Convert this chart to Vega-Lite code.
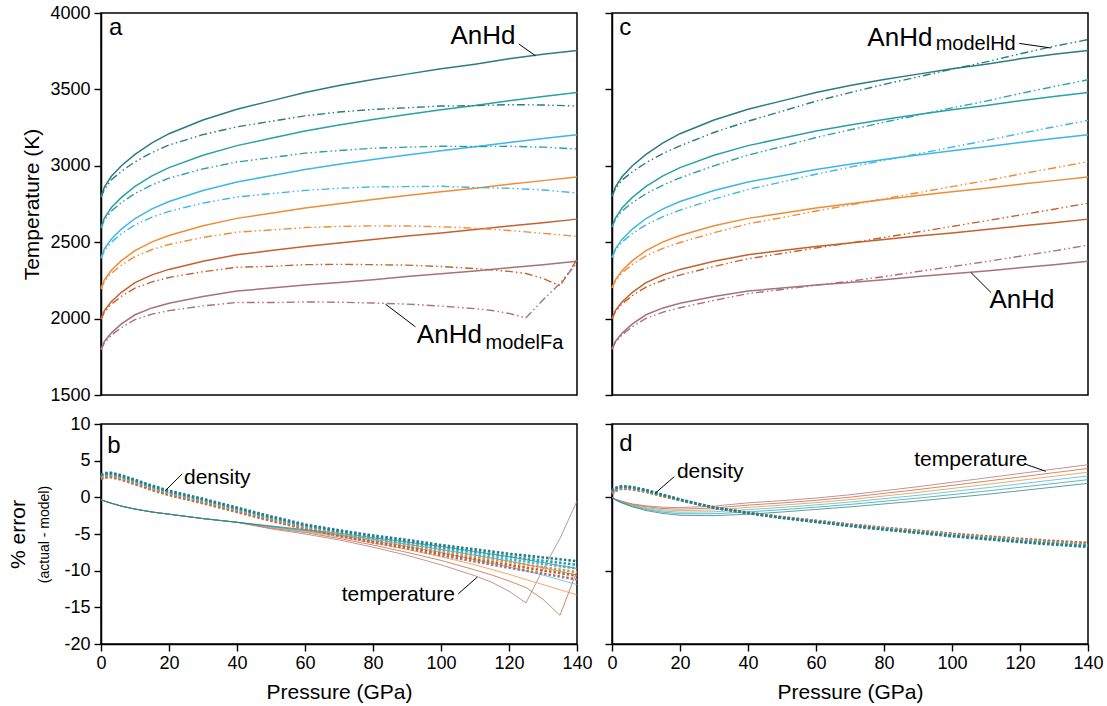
{
"$schema":"https://vega.github.io/schema/vega-lite/v6.json",
"padding":{"left":6,"top":3,"right":3,"bottom":3},
"background":"white",
"config":{"font":"Liberation Sans","view":{"stroke":"black","strokeWidth":1.5},
"axis":{"labelFontSize":18,"titleFontSize":21,"titleFontWeight":"normal","labelColor":"black","titleColor":"black","tickColor":"black","domainColor":"black","tickSize":7,"tickWidth":1.4,"domainWidth":1.5,"grid":false,"labelPadding":4,"labelFlush":false,"labelOverlap":false}},
"datasets":{
"solid":[
{"P":0,"T":1800,"k":0},{"P":1,"T":1850,"k":0},{"P":3,"T":1905,"k":0},{"P":6,"T":1965,"k":0},{"P":10,"T":2025,"k":0},{"P":15,"T":2070,"k":0},{"P":20,"T":2100,"k":0},{"P":30,"T":2145,"k":0},{"P":40,"T":2180,"k":0},{"P":50,"T":2200,"k":0},{"P":60,"T":2220,"k":0},{"P":70,"T":2237,"k":0},{"P":80,"T":2255,"k":0},{"P":90,"T":2275,"k":0},{"P":100,"T":2293,"k":0},{"P":110,"T":2312,"k":0},{"P":120,"T":2332,"k":0},{"P":130,"T":2352,"k":0},{"P":140,"T":2375,"k":0},
{"P":0,"T":2000,"k":1},{"P":1,"T":2052,"k":1},{"P":3,"T":2110,"k":1},{"P":6,"T":2172,"k":1},{"P":10,"T":2235,"k":1},{"P":15,"T":2286,"k":1},{"P":20,"T":2322,"k":1},{"P":30,"T":2376,"k":1},{"P":40,"T":2418,"k":1},{"P":50,"T":2445,"k":1},{"P":60,"T":2472,"k":1},{"P":70,"T":2495,"k":1},{"P":80,"T":2517,"k":1},{"P":90,"T":2540,"k":1},{"P":100,"T":2561,"k":1},{"P":110,"T":2583,"k":1},{"P":120,"T":2606,"k":1},{"P":130,"T":2628,"k":1},{"P":140,"T":2651,"k":1},
{"P":0,"T":2200,"k":2},{"P":1,"T":2254,"k":2},{"P":3,"T":2315,"k":2},{"P":6,"T":2379,"k":2},{"P":10,"T":2445,"k":2},{"P":15,"T":2502,"k":2},{"P":20,"T":2544,"k":2},{"P":30,"T":2607,"k":2},{"P":40,"T":2656,"k":2},{"P":50,"T":2690,"k":2},{"P":60,"T":2724,"k":2},{"P":70,"T":2752,"k":2},{"P":80,"T":2779,"k":2},{"P":90,"T":2805,"k":2},{"P":100,"T":2830,"k":2},{"P":110,"T":2853,"k":2},{"P":120,"T":2879,"k":2},{"P":130,"T":2903,"k":2},{"P":140,"T":2927,"k":2},
{"P":0,"T":2400,"k":3},{"P":1,"T":2456,"k":3},{"P":3,"T":2520,"k":3},{"P":6,"T":2586,"k":3},{"P":10,"T":2655,"k":3},{"P":15,"T":2718,"k":3},{"P":20,"T":2766,"k":3},{"P":30,"T":2838,"k":3},{"P":40,"T":2894,"k":3},{"P":50,"T":2935,"k":3},{"P":60,"T":2976,"k":3},{"P":70,"T":3010,"k":3},{"P":80,"T":3041,"k":3},{"P":90,"T":3070,"k":3},{"P":100,"T":3098,"k":3},{"P":110,"T":3124,"k":3},{"P":120,"T":3153,"k":3},{"P":130,"T":3179,"k":3},{"P":140,"T":3203,"k":3},
{"P":0,"T":2600,"k":4},{"P":1,"T":2658,"k":4},{"P":3,"T":2725,"k":4},{"P":6,"T":2793,"k":4},{"P":10,"T":2865,"k":4},{"P":15,"T":2934,"k":4},{"P":20,"T":2988,"k":4},{"P":30,"T":3069,"k":4},{"P":40,"T":3132,"k":4},{"P":50,"T":3180,"k":4},{"P":60,"T":3228,"k":4},{"P":70,"T":3267,"k":4},{"P":80,"T":3303,"k":4},{"P":90,"T":3335,"k":4},{"P":100,"T":3367,"k":4},{"P":110,"T":3394,"k":4},{"P":120,"T":3426,"k":4},{"P":130,"T":3454,"k":4},{"P":140,"T":3479,"k":4},
{"P":0,"T":2800,"k":5},{"P":1,"T":2860,"k":5},{"P":3,"T":2930,"k":5},{"P":6,"T":3000,"k":5},{"P":10,"T":3075,"k":5},{"P":15,"T":3150,"k":5},{"P":20,"T":3210,"k":5},{"P":30,"T":3300,"k":5},{"P":40,"T":3370,"k":5},{"P":50,"T":3425,"k":5},{"P":60,"T":3480,"k":5},{"P":70,"T":3525,"k":5},{"P":80,"T":3565,"k":5},{"P":90,"T":3600,"k":5},{"P":100,"T":3635,"k":5},{"P":110,"T":3665,"k":5},{"P":120,"T":3700,"k":5},{"P":130,"T":3730,"k":5},{"P":140,"T":3755,"k":5}
],
"fa":[
{"P":0,"T":1795,"k":0},{"P":1,"T":1841,"k":0},{"P":3,"T":1890,"k":0},{"P":6,"T":1941,"k":0},{"P":10,"T":1993,"k":0},{"P":15,"T":2029,"k":0},{"P":20,"T":2052,"k":0},{"P":30,"T":2083,"k":0},{"P":40,"T":2106,"k":0},{"P":50,"T":2105,"k":0},{"P":60,"T":2109,"k":0},{"P":70,"T":2107,"k":0},{"P":80,"T":2102,"k":0},{"P":90,"T":2095,"k":0},{"P":100,"T":2082,"k":0},{"P":110,"T":2065,"k":0},{"P":115,"T":2053,"k":0},{"P":120,"T":2034,"k":0},{"P":125,"T":2005,"k":0},{"P":130,"T":2122,"k":0},{"P":135,"T":2231,"k":0},{"P":140,"T":2363,"k":0},
{"P":0,"T":1994,"k":1},{"P":1,"T":2042,"k":1},{"P":3,"T":2093,"k":1},{"P":6,"T":2146,"k":1},{"P":10,"T":2199,"k":1},{"P":15,"T":2240,"k":1},{"P":20,"T":2269,"k":1},{"P":30,"T":2307,"k":1},{"P":40,"T":2336,"k":1},{"P":50,"T":2342,"k":1},{"P":60,"T":2353,"k":1},{"P":70,"T":2355,"k":1},{"P":80,"T":2353,"k":1},{"P":90,"T":2350,"k":1},{"P":100,"T":2341,"k":1},{"P":110,"T":2327,"k":1},{"P":115,"T":2319,"k":1},{"P":120,"T":2309,"k":1},{"P":125,"T":2295,"k":1},{"P":130,"T":2263,"k":1},{"P":135,"T":2215,"k":1},{"P":140,"T":2386,"k":1},
{"P":0,"T":2193,"k":2},{"P":1,"T":2243,"k":2},{"P":3,"T":2296,"k":2},{"P":6,"T":2350,"k":2},{"P":10,"T":2406,"k":2},{"P":15,"T":2452,"k":2},{"P":20,"T":2485,"k":2},{"P":30,"T":2531,"k":2},{"P":40,"T":2566,"k":2},{"P":50,"T":2580,"k":2},{"P":60,"T":2596,"k":2},{"P":70,"T":2603,"k":2},{"P":80,"T":2607,"k":2},{"P":90,"T":2606,"k":2},{"P":100,"T":2601,"k":2},{"P":110,"T":2591,"k":2},{"P":120,"T":2577,"k":2},{"P":130,"T":2558,"k":2},{"P":140,"T":2538,"k":2},
{"P":0,"T":2393,"k":3},{"P":1,"T":2444,"k":3},{"P":3,"T":2500,"k":3},{"P":6,"T":2555,"k":3},{"P":10,"T":2613,"k":3},{"P":15,"T":2664,"k":3},{"P":20,"T":2702,"k":3},{"P":30,"T":2756,"k":3},{"P":40,"T":2796,"k":3},{"P":50,"T":2818,"k":3},{"P":60,"T":2839,"k":3},{"P":70,"T":2853,"k":3},{"P":80,"T":2862,"k":3},{"P":90,"T":2864,"k":3},{"P":100,"T":2866,"k":3},{"P":110,"T":2858,"k":3},{"P":120,"T":2853,"k":3},{"P":130,"T":2842,"k":3},{"P":140,"T":2822,"k":3},
{"P":0,"T":2592,"k":4},{"P":1,"T":2645,"k":4},{"P":3,"T":2703,"k":4},{"P":6,"T":2759,"k":4},{"P":10,"T":2819,"k":4},{"P":15,"T":2875,"k":4},{"P":20,"T":2919,"k":4},{"P":30,"T":2980,"k":4},{"P":40,"T":3025,"k":4},{"P":50,"T":3053,"k":4},{"P":60,"T":3083,"k":4},{"P":70,"T":3100,"k":4},{"P":80,"T":3115,"k":4},{"P":90,"T":3122,"k":4},{"P":100,"T":3128,"k":4},{"P":110,"T":3126,"k":4},{"P":120,"T":3128,"k":4},{"P":130,"T":3122,"k":4},{"P":140,"T":3110,"k":4},
{"P":0,"T":2792,"k":5},{"P":1,"T":2846,"k":5},{"P":3,"T":2907,"k":5},{"P":6,"T":2964,"k":5},{"P":10,"T":3026,"k":5},{"P":15,"T":3087,"k":5},{"P":20,"T":3136,"k":5},{"P":30,"T":3204,"k":5},{"P":40,"T":3255,"k":5},{"P":50,"T":3291,"k":5},{"P":60,"T":3327,"k":5},{"P":70,"T":3352,"k":5},{"P":80,"T":3369,"k":5},{"P":90,"T":3380,"k":5},{"P":100,"T":3391,"k":5},{"P":110,"T":3394,"k":5},{"P":120,"T":3400,"k":5},{"P":130,"T":3398,"k":5},{"P":140,"T":3391,"k":5}
],
"hd":[
{"P":0,"T":1800,"k":0},{"P":1,"T":1845,"k":0},{"P":3,"T":1895,"k":0},{"P":6,"T":1947,"k":0},{"P":10,"T":2002,"k":0},{"P":15,"T":2042,"k":0},{"P":20,"T":2071,"k":0},{"P":30,"T":2119,"k":0},{"P":40,"T":2164,"k":0},{"P":50,"T":2190,"k":0},{"P":60,"T":2218,"k":0},{"P":70,"T":2245,"k":0},{"P":80,"T":2275,"k":0},{"P":90,"T":2308,"k":0},{"P":100,"T":2340,"k":0},{"P":110,"T":2373,"k":0},{"P":120,"T":2408,"k":0},{"P":130,"T":2443,"k":0},{"P":140,"T":2481,"k":0},
{"P":0,"T":2000,"k":1},{"P":1,"T":2046,"k":1},{"P":3,"T":2097,"k":1},{"P":6,"T":2151,"k":1},{"P":10,"T":2206,"k":1},{"P":15,"T":2251,"k":1},{"P":20,"T":2285,"k":1},{"P":30,"T":2341,"k":1},{"P":40,"T":2392,"k":1},{"P":50,"T":2426,"k":1},{"P":60,"T":2462,"k":1},{"P":70,"T":2495,"k":1},{"P":80,"T":2531,"k":1},{"P":90,"T":2567,"k":1},{"P":100,"T":2603,"k":1},{"P":110,"T":2640,"k":1},{"P":120,"T":2678,"k":1},{"P":130,"T":2716,"k":1},{"P":140,"T":2755,"k":1},
{"P":0,"T":2200,"k":2},{"P":1,"T":2247,"k":2},{"P":3,"T":2300,"k":2},{"P":6,"T":2354,"k":2},{"P":10,"T":2411,"k":2},{"P":15,"T":2460,"k":2},{"P":20,"T":2498,"k":2},{"P":30,"T":2562,"k":2},{"P":40,"T":2620,"k":2},{"P":50,"T":2661,"k":2},{"P":60,"T":2704,"k":2},{"P":70,"T":2743,"k":2},{"P":80,"T":2784,"k":2},{"P":90,"T":2824,"k":2},{"P":100,"T":2864,"k":2},{"P":110,"T":2903,"k":2},{"P":120,"T":2946,"k":2},{"P":130,"T":2986,"k":2},{"P":140,"T":3027,"k":2},
{"P":0,"T":2400,"k":3},{"P":1,"T":2448,"k":3},{"P":3,"T":2502,"k":3},{"P":6,"T":2557,"k":3},{"P":10,"T":2614,"k":3},{"P":15,"T":2667,"k":3},{"P":20,"T":2710,"k":3},{"P":30,"T":2782,"k":3},{"P":40,"T":2845,"k":3},{"P":50,"T":2894,"k":3},{"P":60,"T":2945,"k":3},{"P":70,"T":2991,"k":3},{"P":80,"T":3036,"k":3},{"P":90,"T":3079,"k":3},{"P":100,"T":3122,"k":3},{"P":110,"T":3165,"k":3},{"P":120,"T":3211,"k":3},{"P":130,"T":3255,"k":3},{"P":140,"T":3297,"k":3},
{"P":0,"T":2600,"k":4},{"P":1,"T":2649,"k":4},{"P":3,"T":2705,"k":4},{"P":6,"T":2759,"k":4},{"P":10,"T":2817,"k":4},{"P":15,"T":2874,"k":4},{"P":20,"T":2921,"k":4},{"P":30,"T":3000,"k":4},{"P":40,"T":3070,"k":4},{"P":50,"T":3126,"k":4},{"P":60,"T":3185,"k":4},{"P":70,"T":3235,"k":4},{"P":80,"T":3285,"k":4},{"P":90,"T":3331,"k":4},{"P":100,"T":3379,"k":4},{"P":110,"T":3423,"k":4},{"P":120,"T":3473,"k":4},{"P":130,"T":3519,"k":4},{"P":140,"T":3563,"k":4},
{"P":0,"T":2800,"k":5},{"P":1,"T":2850,"k":5},{"P":3,"T":2907,"k":5},{"P":6,"T":2961,"k":5},{"P":10,"T":3020,"k":5},{"P":15,"T":3081,"k":5},{"P":20,"T":3131,"k":5},{"P":30,"T":3218,"k":5},{"P":40,"T":3292,"k":5},{"P":50,"T":3357,"k":5},{"P":60,"T":3423,"k":5},{"P":70,"T":3479,"k":5},{"P":80,"T":3533,"k":5},{"P":90,"T":3582,"k":5},{"P":100,"T":3633,"k":5},{"P":110,"T":3680,"k":5},{"P":120,"T":3733,"k":5},{"P":130,"T":3782,"k":5},{"P":140,"T":3826,"k":5}
],
"bT":[
{"P":0,"E":-0.3,"k":0},{"P":1,"E":-0.5,"k":0},{"P":3,"E":-0.8,"k":0},{"P":6,"E":-1.2,"k":0},{"P":10,"E":-1.6,"k":0},{"P":15,"E":-2.0,"k":0},{"P":20,"E":-2.3,"k":0},{"P":30,"E":-2.9,"k":0},{"P":40,"E":-3.4,"k":0},{"P":50,"E":-4.3,"k":0},{"P":60,"E":-5.0,"k":0},{"P":70,"E":-5.8,"k":0},{"P":80,"E":-6.8,"k":0},{"P":90,"E":-7.9,"k":0},{"P":100,"E":-9.2,"k":0},{"P":110,"E":-10.7,"k":0},{"P":115,"E":-11.6,"k":0},{"P":120,"E":-12.8,"k":0},{"P":125,"E":-14.4,"k":0},{"P":130,"E":-9.8,"k":0},{"P":135,"E":-5.6,"k":0},{"P":140,"E":-0.5,"k":0},
{"P":0,"E":-0.3,"k":1},{"P":1,"E":-0.5,"k":1},{"P":3,"E":-0.8,"k":1},{"P":6,"E":-1.2,"k":1},{"P":10,"E":-1.6,"k":1},{"P":15,"E":-2.0,"k":1},{"P":20,"E":-2.3,"k":1},{"P":30,"E":-2.9,"k":1},{"P":40,"E":-3.4,"k":1},{"P":50,"E":-4.2,"k":1},{"P":60,"E":-4.8,"k":1},{"P":70,"E":-5.6,"k":1},{"P":80,"E":-6.5,"k":1},{"P":90,"E":-7.5,"k":1},{"P":100,"E":-8.6,"k":1},{"P":110,"E":-9.9,"k":1},{"P":115,"E":-10.6,"k":1},{"P":120,"E":-11.4,"k":1},{"P":125,"E":-12.3,"k":1},{"P":130,"E":-13.9,"k":1},{"P":135,"E":-16.1,"k":1},{"P":140,"E":-10.0,"k":1},
{"P":0,"E":-0.3,"k":2},{"P":1,"E":-0.5,"k":2},{"P":3,"E":-0.8,"k":2},{"P":6,"E":-1.2,"k":2},{"P":10,"E":-1.6,"k":2},{"P":15,"E":-2.0,"k":2},{"P":20,"E":-2.3,"k":2},{"P":30,"E":-2.9,"k":2},{"P":40,"E":-3.4,"k":2},{"P":50,"E":-4.1,"k":2},{"P":60,"E":-4.7,"k":2},{"P":70,"E":-5.4,"k":2},{"P":80,"E":-6.2,"k":2},{"P":90,"E":-7.1,"k":2},{"P":100,"E":-8.1,"k":2},{"P":110,"E":-9.2,"k":2},{"P":120,"E":-10.5,"k":2},{"P":130,"E":-11.9,"k":2},{"P":140,"E":-13.3,"k":2},
{"P":0,"E":-0.3,"k":3},{"P":1,"E":-0.5,"k":3},{"P":3,"E":-0.8,"k":3},{"P":6,"E":-1.2,"k":3},{"P":10,"E":-1.6,"k":3},{"P":15,"E":-2.0,"k":3},{"P":20,"E":-2.3,"k":3},{"P":30,"E":-2.9,"k":3},{"P":40,"E":-3.4,"k":3},{"P":50,"E":-4.0,"k":3},{"P":60,"E":-4.6,"k":3},{"P":70,"E":-5.2,"k":3},{"P":80,"E":-5.9,"k":3},{"P":90,"E":-6.7,"k":3},{"P":100,"E":-7.5,"k":3},{"P":110,"E":-8.5,"k":3},{"P":120,"E":-9.5,"k":3},{"P":130,"E":-10.6,"k":3},{"P":140,"E":-11.9,"k":3},
{"P":0,"E":-0.3,"k":4},{"P":1,"E":-0.5,"k":4},{"P":3,"E":-0.8,"k":4},{"P":6,"E":-1.2,"k":4},{"P":10,"E":-1.6,"k":4},{"P":15,"E":-2.0,"k":4},{"P":20,"E":-2.3,"k":4},{"P":30,"E":-2.9,"k":4},{"P":40,"E":-3.4,"k":4},{"P":50,"E":-4.0,"k":4},{"P":60,"E":-4.5,"k":4},{"P":70,"E":-5.1,"k":4},{"P":80,"E":-5.7,"k":4},{"P":90,"E":-6.4,"k":4},{"P":100,"E":-7.1,"k":4},{"P":110,"E":-7.9,"k":4},{"P":120,"E":-8.7,"k":4},{"P":130,"E":-9.6,"k":4},{"P":140,"E":-10.6,"k":4},
{"P":0,"E":-0.3,"k":5},{"P":1,"E":-0.5,"k":5},{"P":3,"E":-0.8,"k":5},{"P":6,"E":-1.2,"k":5},{"P":10,"E":-1.6,"k":5},{"P":15,"E":-2.0,"k":5},{"P":20,"E":-2.3,"k":5},{"P":30,"E":-2.9,"k":5},{"P":40,"E":-3.4,"k":5},{"P":50,"E":-3.9,"k":5},{"P":60,"E":-4.4,"k":5},{"P":70,"E":-4.9,"k":5},{"P":80,"E":-5.5,"k":5},{"P":90,"E":-6.1,"k":5},{"P":100,"E":-6.7,"k":5},{"P":110,"E":-7.4,"k":5},{"P":120,"E":-8.1,"k":5},{"P":130,"E":-8.9,"k":5},{"P":140,"E":-9.7,"k":5}
],
"bD":[
{"P":0,"E":2.5,"k":0},{"P":1,"E":2.7,"k":0},{"P":3,"E":2.75,"k":0},{"P":6,"E":2.4,"k":0},{"P":10,"E":1.8,"k":0},{"P":15,"E":1.0,"k":0},{"P":20,"E":0.3,"k":0},{"P":30,"E":-0.8,"k":0},{"P":40,"E":-2.0,"k":0},{"P":50,"E":-3.2,"k":0},{"P":60,"E":-4.3,"k":0},{"P":70,"E":-5.25,"k":0},{"P":80,"E":-6.15,"k":0},{"P":90,"E":-6.95,"k":0},{"P":100,"E":-7.9,"k":0},{"P":110,"E":-8.75,"k":0},{"P":120,"E":-9.6,"k":0},{"P":130,"E":-10.4,"k":0},{"P":140,"E":-11.2,"k":0},
{"P":0,"E":2.62,"k":1},{"P":1,"E":2.82,"k":1},{"P":3,"E":2.87,"k":1},{"P":6,"E":2.52,"k":1},{"P":10,"E":1.92,"k":1},{"P":15,"E":1.12,"k":1},{"P":20,"E":0.42,"k":1},{"P":30,"E":-0.68,"k":1},{"P":40,"E":-1.88,"k":1},{"P":50,"E":-3.08,"k":1},{"P":60,"E":-4.18,"k":1},{"P":70,"E":-5.1,"k":1},{"P":80,"E":-5.96,"k":1},{"P":90,"E":-6.72,"k":1},{"P":100,"E":-7.62,"k":1},{"P":110,"E":-8.42,"k":1},{"P":120,"E":-9.22,"k":1},{"P":130,"E":-9.96,"k":1},{"P":140,"E":-10.7,"k":1},
{"P":0,"E":2.74,"k":2},{"P":1,"E":2.94,"k":2},{"P":3,"E":2.99,"k":2},{"P":6,"E":2.64,"k":2},{"P":10,"E":2.04,"k":2},{"P":15,"E":1.24,"k":2},{"P":20,"E":0.54,"k":2},{"P":30,"E":-0.56,"k":2},{"P":40,"E":-1.76,"k":2},{"P":50,"E":-2.96,"k":2},{"P":60,"E":-4.06,"k":2},{"P":70,"E":-4.95,"k":2},{"P":80,"E":-5.77,"k":2},{"P":90,"E":-6.49,"k":2},{"P":100,"E":-7.34,"k":2},{"P":110,"E":-8.09,"k":2},{"P":120,"E":-8.84,"k":2},{"P":130,"E":-9.52,"k":2},{"P":140,"E":-10.2,"k":2},
{"P":0,"E":2.86,"k":3},{"P":1,"E":3.06,"k":3},{"P":3,"E":3.11,"k":3},{"P":6,"E":2.76,"k":3},{"P":10,"E":2.16,"k":3},{"P":15,"E":1.36,"k":3},{"P":20,"E":0.66,"k":3},{"P":30,"E":-0.44,"k":3},{"P":40,"E":-1.64,"k":3},{"P":50,"E":-2.84,"k":3},{"P":60,"E":-3.94,"k":3},{"P":70,"E":-4.8,"k":3},{"P":80,"E":-5.58,"k":3},{"P":90,"E":-6.26,"k":3},{"P":100,"E":-7.06,"k":3},{"P":110,"E":-7.76,"k":3},{"P":120,"E":-8.46,"k":3},{"P":130,"E":-9.08,"k":3},{"P":140,"E":-9.7,"k":3},
{"P":0,"E":2.98,"k":4},{"P":1,"E":3.18,"k":4},{"P":3,"E":3.23,"k":4},{"P":6,"E":2.88,"k":4},{"P":10,"E":2.28,"k":4},{"P":15,"E":1.48,"k":4},{"P":20,"E":0.78,"k":4},{"P":30,"E":-0.32,"k":4},{"P":40,"E":-1.52,"k":4},{"P":50,"E":-2.72,"k":4},{"P":60,"E":-3.82,"k":4},{"P":70,"E":-4.65,"k":4},{"P":80,"E":-5.39,"k":4},{"P":90,"E":-6.03,"k":4},{"P":100,"E":-6.78,"k":4},{"P":110,"E":-7.43,"k":4},{"P":120,"E":-8.08,"k":4},{"P":130,"E":-8.64,"k":4},{"P":140,"E":-9.2,"k":4},
{"P":0,"E":3.1,"k":5},{"P":1,"E":3.3,"k":5},{"P":3,"E":3.35,"k":5},{"P":6,"E":3.0,"k":5},{"P":10,"E":2.4,"k":5},{"P":15,"E":1.6,"k":5},{"P":20,"E":0.9,"k":5},{"P":30,"E":-0.2,"k":5},{"P":40,"E":-1.4,"k":5},{"P":50,"E":-2.6,"k":5},{"P":60,"E":-3.7,"k":5},{"P":70,"E":-4.5,"k":5},{"P":80,"E":-5.2,"k":5},{"P":90,"E":-5.8,"k":5},{"P":100,"E":-6.5,"k":5},{"P":110,"E":-7.1,"k":5},{"P":120,"E":-7.7,"k":5},{"P":130,"E":-8.2,"k":5},{"P":140,"E":-8.7,"k":5}
],
"dT":[
{"P":0,"E":0,"k":0},{"P":1,"E":-0.25,"k":0},{"P":3,"E":-0.55,"k":0},{"P":6,"E":-0.9,"k":0},{"P":10,"E":-1.15,"k":0},{"P":15,"E":-1.35,"k":0},{"P":20,"E":-1.4,"k":0},{"P":30,"E":-1.2,"k":0},{"P":40,"E":-0.75,"k":0},{"P":50,"E":-0.45,"k":0},{"P":60,"E":-0.1,"k":0},{"P":70,"E":0.35,"k":0},{"P":80,"E":0.9,"k":0},{"P":90,"E":1.45,"k":0},{"P":100,"E":2.05,"k":0},{"P":110,"E":2.65,"k":0},{"P":120,"E":3.25,"k":0},{"P":130,"E":3.85,"k":0},{"P":140,"E":4.45,"k":0},
{"P":0,"E":0,"k":1},{"P":1,"E":-0.27,"k":1},{"P":3,"E":-0.6,"k":1},{"P":6,"E":-0.98,"k":1},{"P":10,"E":-1.28,"k":1},{"P":15,"E":-1.52,"k":1},{"P":20,"E":-1.61,"k":1},{"P":30,"E":-1.46,"k":1},{"P":40,"E":-1.06,"k":1},{"P":50,"E":-0.76,"k":1},{"P":60,"E":-0.41,"k":1},{"P":70,"E":0.02,"k":1},{"P":80,"E":0.54,"k":1},{"P":90,"E":1.06,"k":1},{"P":100,"E":1.63,"k":1},{"P":110,"E":2.2,"k":1},{"P":120,"E":2.78,"k":1},{"P":130,"E":3.36,"k":1},{"P":140,"E":3.94,"k":1},
{"P":0,"E":0,"k":2},{"P":1,"E":-0.29,"k":2},{"P":3,"E":-0.65,"k":2},{"P":6,"E":-1.06,"k":2},{"P":10,"E":-1.41,"k":2},{"P":15,"E":-1.69,"k":2},{"P":20,"E":-1.82,"k":2},{"P":30,"E":-1.72,"k":2},{"P":40,"E":-1.37,"k":2},{"P":50,"E":-1.07,"k":2},{"P":60,"E":-0.72,"k":2},{"P":70,"E":-0.31,"k":2},{"P":80,"E":0.18,"k":2},{"P":90,"E":0.67,"k":2},{"P":100,"E":1.21,"k":2},{"P":110,"E":1.75,"k":2},{"P":120,"E":2.31,"k":2},{"P":130,"E":2.87,"k":2},{"P":140,"E":3.43,"k":2},
{"P":0,"E":0,"k":3},{"P":1,"E":-0.31,"k":3},{"P":3,"E":-0.7,"k":3},{"P":6,"E":-1.14,"k":3},{"P":10,"E":-1.54,"k":3},{"P":15,"E":-1.86,"k":3},{"P":20,"E":-2.03,"k":3},{"P":30,"E":-1.98,"k":3},{"P":40,"E":-1.68,"k":3},{"P":50,"E":-1.38,"k":3},{"P":60,"E":-1.03,"k":3},{"P":70,"E":-0.64,"k":3},{"P":80,"E":-0.18,"k":3},{"P":90,"E":0.28,"k":3},{"P":100,"E":0.79,"k":3},{"P":110,"E":1.3,"k":3},{"P":120,"E":1.84,"k":3},{"P":130,"E":2.38,"k":3},{"P":140,"E":2.92,"k":3},
{"P":0,"E":0,"k":4},{"P":1,"E":-0.33,"k":4},{"P":3,"E":-0.75,"k":4},{"P":6,"E":-1.22,"k":4},{"P":10,"E":-1.67,"k":4},{"P":15,"E":-2.03,"k":4},{"P":20,"E":-2.24,"k":4},{"P":30,"E":-2.24,"k":4},{"P":40,"E":-1.99,"k":4},{"P":50,"E":-1.69,"k":4},{"P":60,"E":-1.34,"k":4},{"P":70,"E":-0.97,"k":4},{"P":80,"E":-0.54,"k":4},{"P":90,"E":-0.11,"k":4},{"P":100,"E":0.37,"k":4},{"P":110,"E":0.85,"k":4},{"P":120,"E":1.37,"k":4},{"P":130,"E":1.89,"k":4},{"P":140,"E":2.41,"k":4},
{"P":0,"E":0,"k":5},{"P":1,"E":-0.35,"k":5},{"P":3,"E":-0.8,"k":5},{"P":6,"E":-1.3,"k":5},{"P":10,"E":-1.8,"k":5},{"P":15,"E":-2.2,"k":5},{"P":20,"E":-2.45,"k":5},{"P":30,"E":-2.5,"k":5},{"P":40,"E":-2.3,"k":5},{"P":50,"E":-2.0,"k":5},{"P":60,"E":-1.65,"k":5},{"P":70,"E":-1.3,"k":5},{"P":80,"E":-0.9,"k":5},{"P":90,"E":-0.5,"k":5},{"P":100,"E":-0.05,"k":5},{"P":110,"E":0.4,"k":5},{"P":120,"E":0.9,"k":5},{"P":130,"E":1.4,"k":5},{"P":140,"E":1.9,"k":5}
],
"dD":[
{"P":0,"E":0.5,"k":0},{"P":1,"E":0.9,"k":0},{"P":3,"E":1.2,"k":0},{"P":6,"E":1.1,"k":0},{"P":10,"E":0.75,"k":0},{"P":15,"E":0.15,"k":0},{"P":20,"E":-0.4,"k":0},{"P":30,"E":-1.4,"k":0},{"P":40,"E":-2.1,"k":0},{"P":50,"E":-2.7,"k":0},{"P":60,"E":-3.2,"k":0},{"P":70,"E":-3.7,"k":0},{"P":80,"E":-4.15,"k":0},{"P":90,"E":-4.55,"k":0},{"P":100,"E":-4.95,"k":0},{"P":110,"E":-5.3,"k":0},{"P":120,"E":-5.65,"k":0},{"P":130,"E":-5.95,"k":0},{"P":140,"E":-6.2,"k":0},
{"P":0,"E":0.58,"k":1},{"P":1,"E":0.98,"k":1},{"P":3,"E":1.27,"k":1},{"P":6,"E":1.16,"k":1},{"P":10,"E":0.8,"k":1},{"P":15,"E":0.19,"k":1},{"P":20,"E":-0.38,"k":1},{"P":30,"E":-1.4,"k":1},{"P":40,"E":-2.11,"k":1},{"P":50,"E":-2.72,"k":1},{"P":60,"E":-3.23,"k":1},{"P":70,"E":-3.74,"k":1},{"P":80,"E":-4.2,"k":1},{"P":90,"E":-4.61,"k":1},{"P":100,"E":-5.02,"k":1},{"P":110,"E":-5.38,"k":1},{"P":120,"E":-5.74,"k":1},{"P":130,"E":-6.05,"k":1},{"P":140,"E":-6.31,"k":1},
{"P":0,"E":0.66,"k":2},{"P":1,"E":1.06,"k":2},{"P":3,"E":1.34,"k":2},{"P":6,"E":1.22,"k":2},{"P":10,"E":0.85,"k":2},{"P":15,"E":0.23,"k":2},{"P":20,"E":-0.36,"k":2},{"P":30,"E":-1.4,"k":2},{"P":40,"E":-2.12,"k":2},{"P":50,"E":-2.74,"k":2},{"P":60,"E":-3.26,"k":2},{"P":70,"E":-3.78,"k":2},{"P":80,"E":-4.25,"k":2},{"P":90,"E":-4.67,"k":2},{"P":100,"E":-5.09,"k":2},{"P":110,"E":-5.46,"k":2},{"P":120,"E":-5.83,"k":2},{"P":130,"E":-6.15,"k":2},{"P":140,"E":-6.42,"k":2},
{"P":0,"E":0.74,"k":3},{"P":1,"E":1.14,"k":3},{"P":3,"E":1.41,"k":3},{"P":6,"E":1.28,"k":3},{"P":10,"E":0.9,"k":3},{"P":15,"E":0.27,"k":3},{"P":20,"E":-0.34,"k":3},{"P":30,"E":-1.4,"k":3},{"P":40,"E":-2.13,"k":3},{"P":50,"E":-2.76,"k":3},{"P":60,"E":-3.29,"k":3},{"P":70,"E":-3.82,"k":3},{"P":80,"E":-4.3,"k":3},{"P":90,"E":-4.73,"k":3},{"P":100,"E":-5.16,"k":3},{"P":110,"E":-5.54,"k":3},{"P":120,"E":-5.92,"k":3},{"P":130,"E":-6.25,"k":3},{"P":140,"E":-6.53,"k":3},
{"P":0,"E":0.82,"k":4},{"P":1,"E":1.22,"k":4},{"P":3,"E":1.48,"k":4},{"P":6,"E":1.34,"k":4},{"P":10,"E":0.95,"k":4},{"P":15,"E":0.31,"k":4},{"P":20,"E":-0.32,"k":4},{"P":30,"E":-1.4,"k":4},{"P":40,"E":-2.14,"k":4},{"P":50,"E":-2.78,"k":4},{"P":60,"E":-3.32,"k":4},{"P":70,"E":-3.86,"k":4},{"P":80,"E":-4.35,"k":4},{"P":90,"E":-4.79,"k":4},{"P":100,"E":-5.23,"k":4},{"P":110,"E":-5.62,"k":4},{"P":120,"E":-6.01,"k":4},{"P":130,"E":-6.35,"k":4},{"P":140,"E":-6.64,"k":4},
{"P":0,"E":0.9,"k":5},{"P":1,"E":1.3,"k":5},{"P":3,"E":1.55,"k":5},{"P":6,"E":1.4,"k":5},{"P":10,"E":1.0,"k":5},{"P":15,"E":0.35,"k":5},{"P":20,"E":-0.3,"k":5},{"P":30,"E":-1.4,"k":5},{"P":40,"E":-2.15,"k":5},{"P":50,"E":-2.8,"k":5},{"P":60,"E":-3.35,"k":5},{"P":70,"E":-3.9,"k":5},{"P":80,"E":-4.4,"k":5},{"P":90,"E":-4.85,"k":5},{"P":100,"E":-5.3,"k":5},{"P":110,"E":-5.7,"k":5},{"P":120,"E":-6.1,"k":5},{"P":130,"E":-6.45,"k":5},{"P":140,"E":-6.75,"k":5}
]
},
"columns":2,
"spacing":{"row":29,"column":35},
"bounds":"flush",
"concat":[
{"width":476,"height":382,
 "layer":[
  {"data":{"name":"solid"},"mark":{"type":"line","strokeWidth":1.5},
   "encoding":{"x":{"field":"P","type":"quantitative","scale":{"domain":[0,140],"nice":false},"axis":null},
     "y":{"field":"T","type":"quantitative","scale":{"domain":[1500,4000],"nice":false},"axis":{"title":"Temperature (K)","values":[1500,2000,2500,3000,3500,4000],"labelExpr":"'' + datum.value","titlePadding":7}},
     "color":{"field":"k","type":"nominal","scale":{"domain":[0,1,2,3,4,5],"range":["#a8727a","#c4622d","#f08c35","#3db7e4","#2aa0a8","#2b7c83"]},"legend":null}}},
  {"data":{"name":"fa"},"mark":{"type":"line","strokeWidth":1.4,"strokeDash":[8,3,1.5,3,1.5,3]},
   "encoding":{"x":{"field":"P","type":"quantitative","axis":null},"y":{"field":"T","type":"quantitative"},
     "color":{"field":"k","type":"nominal","scale":{"domain":[0,1,2,3,4,5],"range":["#a8727a","#c4622d","#f08c35","#3db7e4","#2aa0a8","#2b7c83"]},"legend":null}}},
  {"data":{"values":[{"P":122.9,"T":3797,"P2":127.8,"T2":3720},{"P":83.7,"T":2094,"P2":92.5,"T2":1946}]},"mark":{"type":"rule","color":"black","strokeWidth":1},
   "encoding":{"x":{"field":"P","type":"quantitative","axis":null},"y":{"field":"T","type":"quantitative"},"x2":{"field":"P2"},"y2":{"field":"T2"}}},
  {"data":{"values":[{"P":2.35,"T":3856,"t":"a"}]},"mark":{"type":"text","fontSize":24,"align":"left","baseline":"alphabetic","color":"black"},
   "encoding":{"x":{"field":"P","type":"quantitative","axis":null},"y":{"field":"T","type":"quantitative"},"text":{"field":"t"}}},
  {"data":{"values":[{"P":102.8,"T":3797,"t":"AnHd"},{"P":92.9,"T":1843,"t":"AnHd"}]},"mark":{"type":"text","fontSize":26,"align":"left","baseline":"alphabetic","color":"black"},
   "encoding":{"x":{"field":"P","type":"quantitative","axis":null},"y":{"field":"T","type":"quantitative"},"text":{"field":"t"}}},
  {"data":{"values":[{"P":113.1,"T":1804,"t":"modelFa"}]},"mark":{"type":"text","fontSize":20,"align":"left","baseline":"alphabetic","color":"black"},
   "encoding":{"x":{"field":"P","type":"quantitative","axis":null},"y":{"field":"T","type":"quantitative"},"text":{"field":"t"}}}
 ]},
{"width":476,"height":382,
 "layer":[
  {"data":{"name":"solid"},"mark":{"type":"line","strokeWidth":1.5},
   "encoding":{"x":{"field":"P","type":"quantitative","scale":{"domain":[0,140],"nice":false},"axis":null},
     "y":{"field":"T","type":"quantitative","scale":{"domain":[1500,4000],"nice":false},"axis":{"title":null,"labels":false,"values":[1500,2000,2500,3000,3500,4000]}},
     "color":{"field":"k","type":"nominal","scale":{"domain":[0,1,2,3,4,5],"range":["#a8727a","#c4622d","#f08c35","#3db7e4","#2aa0a8","#2b7c83"]},"legend":null}}},
  {"data":{"name":"hd"},"mark":{"type":"line","strokeWidth":1.4,"strokeDash":[8,3,1.5,3,1.5,3]},
   "encoding":{"x":{"field":"P","type":"quantitative","axis":null},"y":{"field":"T","type":"quantitative"},
     "color":{"field":"k","type":"nominal","scale":{"domain":[0,1,2,3,4,5],"range":["#a8727a","#c4622d","#f08c35","#3db7e4","#2aa0a8","#2b7c83"]},"legend":null}}},
  {"data":{"values":[{"P":119.8,"T":3801,"P2":129.1,"T2":3771},{"P":105.6,"T":2301,"P2":111.5,"T2":2170}]},"mark":{"type":"rule","color":"black","strokeWidth":1},
   "encoding":{"x":{"field":"P","type":"quantitative","axis":null},"y":{"field":"T","type":"quantitative"},"x2":{"field":"P2"},"y2":{"field":"T2"}}},
  {"data":{"values":[{"P":2.15,"T":3856,"t":"c"}]},"mark":{"type":"text","fontSize":24,"align":"left","baseline":"alphabetic","color":"black"},
   "encoding":{"x":{"field":"P","type":"quantitative","axis":null},"y":{"field":"T","type":"quantitative"},"text":{"field":"t"}}},
  {"data":{"values":[{"P":75.1,"T":3786,"t":"AnHd"},{"P":111,"T":2072,"t":"AnHd"}]},"mark":{"type":"text","fontSize":26,"align":"left","baseline":"alphabetic","color":"black"},
   "encoding":{"x":{"field":"P","type":"quantitative","axis":null},"y":{"field":"T","type":"quantitative"},"text":{"field":"t"}}},
  {"data":{"values":[{"P":95.2,"T":3758,"t":"modelHd"}]},"mark":{"type":"text","fontSize":20,"align":"left","baseline":"alphabetic","color":"black"},
   "encoding":{"x":{"field":"P","type":"quantitative","axis":null},"y":{"field":"T","type":"quantitative"},"text":{"field":"t"}}}
 ]},
{"width":476,"height":220,
 "resolve":{"scale":{"y":"shared"},"axis":{"y":"independent"}},
 "layer":[
  {"data":{"name":"bT"},"mark":{"type":"line","strokeWidth":1,"opacity":0.75},
   "encoding":{"x":{"field":"P","type":"quantitative","scale":{"domain":[0,140],"nice":false},"axis":{"title":"Pressure (GPa)","values":[0,20,40,60,80,100,120,140],"labelExpr":"'' + datum.value","labelPadding":3,"titlePadding":9}},
     "y":{"field":"E","type":"quantitative","scale":{"domain":[-20,10],"nice":false},"axis":{"title":"(actual - model)","titleFontSize":14,"titlePadding":12,"values":[-20,-15,-10,-5,0,5,10],"labelExpr":"'' + datum.value"}},
     "color":{"field":"k","type":"nominal","scale":{"domain":[0,1,2,3,4,5],"range":["#a8727a","#c4622d","#f08c35","#3db7e4","#2aa0a8","#2b7c83"]},"legend":null}}},
  {"data":{"name":"bD"},"mark":{"type":"line","strokeWidth":2.6,"strokeDash":[2.5,2]},
   "encoding":{"x":{"field":"P","type":"quantitative"},
     "y":{"field":"E","type":"quantitative","axis":{"title":"% error","orient":"left","labels":false,"ticks":false,"domain":false,"minExtent":0,"titlePadding":73,"titleFontSize":21}},
     "color":{"field":"k","type":"nominal","scale":{"domain":[0,1,2,3,4,5],"range":["#a8727a","#c4622d","#f08c35","#3db7e4","#2aa0a8","#2b7c83"]},"legend":null}}},
  {"data":{"values":[{"P":19.0,"E":0.95,"P2":23.9,"E2":3.22},{"P":105.1,"E":-13.15,"P2":110.7,"E2":-10.87}]},"mark":{"type":"rule","color":"black","strokeWidth":1},
   "encoding":{"x":{"field":"P","type":"quantitative"},"y":{"field":"E","type":"quantitative","axis":null},"x2":{"field":"P2"},"y2":{"field":"E2"}}},
  {"data":{"values":[{"P":1.85,"E":6.08,"t":"b"}]},"mark":{"type":"text","fontSize":24,"align":"left","baseline":"alphabetic","color":"black"},
   "encoding":{"x":{"field":"P","type":"quantitative"},"y":{"field":"E","type":"quantitative","axis":null},"text":{"field":"t"}}},
  {"data":{"values":[{"P":24.4,"E":1.85,"t":"density"},{"P":70.8,"E":-14.14,"t":"temperature"}]},"mark":{"type":"text","fontSize":21,"align":"left","baseline":"alphabetic","color":"black"},
   "encoding":{"x":{"field":"P","type":"quantitative"},"y":{"field":"E","type":"quantitative","axis":null},"text":{"field":"t"}}}
 ]},
{"width":476,"height":220,
 "layer":[
  {"data":{"name":"dT"},"mark":{"type":"line","strokeWidth":1,"opacity":0.75},
   "encoding":{"x":{"field":"P","type":"quantitative","scale":{"domain":[0,140],"nice":false},"axis":{"title":"Pressure (GPa)","values":[0,20,40,60,80,100,120,140],"labelExpr":"'' + datum.value","labelPadding":3,"titlePadding":9}},
     "y":{"field":"E","type":"quantitative","scale":{"domain":[-20,10],"nice":false},"axis":{"title":null,"labels":false,"values":[-20,-15,-10,-5,0,5,10]}},
     "color":{"field":"k","type":"nominal","scale":{"domain":[0,1,2,3,4,5],"range":["#a8727a","#c4622d","#f08c35","#3db7e4","#2aa0a8","#2b7c83"]},"legend":null}}},
  {"data":{"name":"dD"},"mark":{"type":"line","strokeWidth":2.6,"strokeDash":[2.5,2]},
   "encoding":{"x":{"field":"P","type":"quantitative"},"y":{"field":"E","type":"quantitative"},
     "color":{"field":"k","type":"nominal","scale":{"domain":[0,1,2,3,4,5],"range":["#a8727a","#c4622d","#f08c35","#3db7e4","#2aa0a8","#2b7c83"]},"legend":null}}},
  {"data":{"values":[{"P":12.7,"E":0.55,"P2":18.3,"E2":2.82},{"P":121.4,"E":4.55,"P2":127.6,"E2":3.55}]},"mark":{"type":"rule","color":"black","strokeWidth":1},
   "encoding":{"x":{"field":"P","type":"quantitative"},"y":{"field":"E","type":"quantitative"},"x2":{"field":"P2"},"y2":{"field":"E2"}}},
  {"data":{"values":[{"P":2.15,"E":6.27,"t":"d"}]},"mark":{"type":"text","fontSize":24,"align":"left","baseline":"alphabetic","color":"black"},
   "encoding":{"x":{"field":"P","type":"quantitative"},"y":{"field":"E","type":"quantitative"},"text":{"field":"t"}}},
  {"data":{"values":[{"P":19.1,"E":2.65,"t":"density"},{"P":88.9,"E":4.32,"t":"temperature"}]},"mark":{"type":"text","fontSize":21,"align":"left","baseline":"alphabetic","color":"black"},
   "encoding":{"x":{"field":"P","type":"quantitative"},"y":{"field":"E","type":"quantitative"},"text":{"field":"t"}}}
 ]}
]
}
